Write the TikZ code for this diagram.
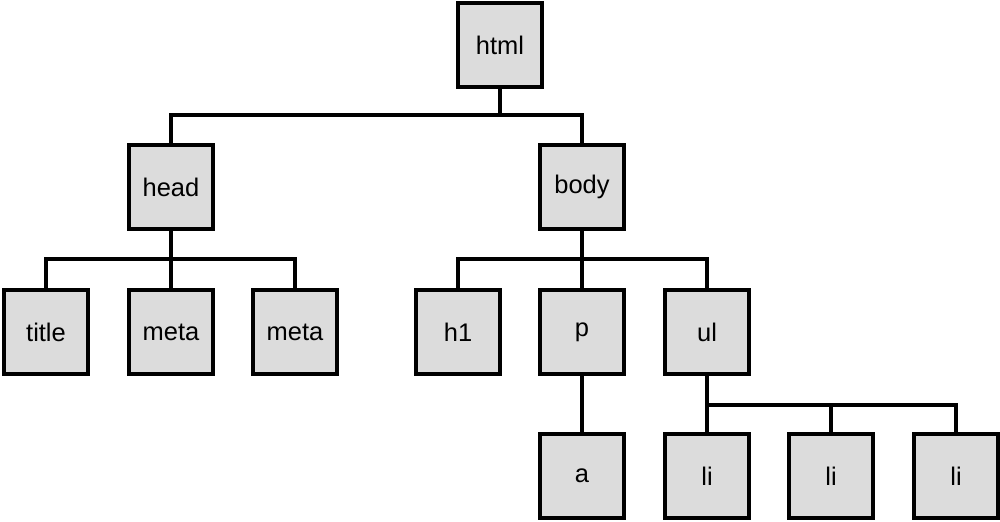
\documentclass[tikz,border=0pt]{standalone}
\usepackage{fontspec}
\setmainfont{Liberation Sans}
\usetikzlibrary{positioning}
\definecolor{boxgray}{RGB}{220,220,220}

\begin{document}
\begin{tikzpicture}[
    x=0.02cm, y=-0.02cm,
    tag/.style={draw, fill=boxgray, line width=2.5pt, minimum size=1.68cm, inner sep=0pt, font=\fontsize{14.5}{17}\selectfont},
    link/.style={line width=1.9pt}
]
    \useasboundingbox (0,0) rectangle (1000,521);

    % Root
    \node[tag] (html) at (500,45) {html};

    % Second level
    \node[tag] (head) at (171,187) {head};
    \node[tag] (body) at (582,187) {body};

    % Children of head
    \node[tag] (title) at (46,332) {title};
    \node[tag] (meta1) at (171,332) {meta};
    \node[tag] (meta2) at (295,332) {meta};

    % Children of body
    \node[tag] (h1) at (458,332) {h1};
    \node[tag] (p) at (582,332) {p};
    \node[tag] (ul) at (707,332) {ul};

    % Bottom row
    \node[tag] (a) at (582,476) {a};
    \node[tag] (li1) at (707,476) {li};
    \node[tag] (li2) at (831,476) {li};
    \node[tag] (li3) at (956,476) {li};

    % Junctions
    \coordinate (jhtml) at (500,115);
    \coordinate (jhead) at (171,259);
    \coordinate (jbody) at (582,259);
    \coordinate (jul) at (707,405);

    % Links
    \draw[link] (html.south) -- (jhtml);
    \draw[link] (jhtml) -| (head.north);
    \draw[link] (jhtml) -| (body.north);

    \draw[link] (head.south) -- (meta1.north);
    \draw[link] (jhead) -| (title.north);
    \draw[link] (jhead) -| (meta2.north);

    \draw[link] (body.south) -- (p.north);
    \draw[link] (jbody) -| (h1.north);
    \draw[link] (jbody) -| (ul.north);

    \draw[link] (p.south) -- (a.north);

    \draw[link] (ul.south) -- (li1.north);
    \draw[link] (jul) -| (li2.north);
    \draw[link] (jul) -| (li3.north);

\end{tikzpicture}
\end{document}
